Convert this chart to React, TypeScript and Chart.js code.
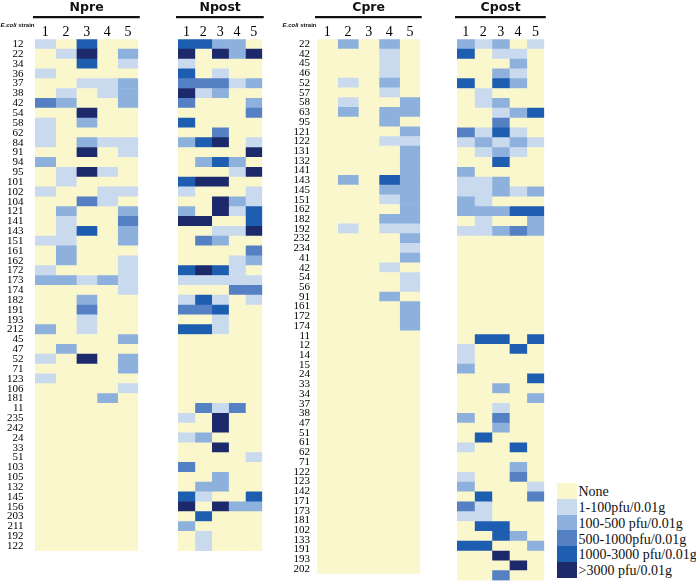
import React, { useEffect, useRef } from 'react';
import { Chart, registerables } from 'chart.js';

Chart.register(...registerables);

// ---------- data ----------
const LEVEL_COLORS = ['#FAF7CC', '#C9DAEF', '#8DB0DC', '#5581C4', '#1E5EB0', '#1C2A6C'];
const LEVEL_NAMES = [
  'None',
  '1-100pfu/0.01g',
  '100-500 pfu/0.01g',
  '500-1000pfu/0.01g',
  '1000-3000 pfu/0.01g',
  '>3000 pfu/0.01g',
];
const COLUMN_LABELS = ['1', '2', '3', '4', '5'];

const N_STRAINS = [
  '12', '22', '34', '36', '37', '38', '42', '54', '58', '62', '84', '91', '94', '95', '101', '102', '104',
  '121', '141', '143', '151', '161', '162', '172', '173', '174', '182', '191', '193', '212', '45', '47',
  '52', '71', '123', '106', '181', '11', '235', '242', '24', '33', '51', '103', '105', '132', '145', '156',
  '203', '211', '192', '122',
];

const C_STRAINS = [
  '22', '42', '45', '46', '52', '57', '58', '63', '95', '121', '122', '131', '132', '141', '143', '145',
  '151', '162', '182', '192', '232', '234', '41', '42', '54', '56', '91', '161', '172', '174', '11', '12',
  '14', '15', '24', '33', '34', '37', '38', '47', '51', '61', '62', '71', '122', '123', '142', '171', '173',
  '181', '102', '133', '191', '193', '202',
];

// levels: 0 None, 1 1-100, 2 100-500, 3 500-1000, 4 1000-3000, 5 >3000
const NPRE = [
  [1, 0, 4, 0, 0], [0, 1, 5, 0, 2], [0, 0, 4, 0, 1], [1, 0, 0, 0, 0], [0, 0, 1, 1, 2],
  [0, 1, 0, 1, 2], [3, 2, 0, 0, 2], [0, 0, 5, 0, 0], [1, 0, 2, 0, 0], [1, 0, 0, 0, 0],
  [1, 0, 2, 1, 1], [0, 0, 5, 0, 1], [2, 0, 0, 0, 0], [0, 1, 5, 1, 0], [0, 1, 0, 0, 0],
  [1, 0, 0, 1, 1], [0, 0, 3, 1, 0], [0, 2, 0, 0, 2], [0, 1, 0, 0, 3], [0, 1, 4, 0, 2],
  [1, 1, 0, 0, 2], [0, 2, 0, 0, 0], [0, 2, 0, 0, 1], [1, 0, 0, 0, 1], [2, 2, 1, 2, 1],
  [0, 0, 0, 0, 1], [0, 0, 2, 0, 0], [0, 0, 3, 0, 0], [0, 0, 1, 0, 0], [2, 0, 1, 0, 0],
  [0, 0, 0, 0, 2], [0, 2, 0, 0, 0], [1, 0, 5, 0, 2], [0, 0, 0, 0, 2], [1, 0, 0, 0, 0],
  [0, 0, 0, 0, 1], [0, 0, 0, 2, 0], [0, 0, 0, 0, 0], [0, 0, 0, 0, 0], [0, 0, 0, 0, 0],
  [0, 0, 0, 0, 0], [0, 0, 0, 0, 0], [0, 0, 0, 0, 0], [0, 0, 0, 0, 0], [0, 0, 0, 0, 0],
  [0, 0, 0, 0, 0], [0, 0, 0, 0, 0], [0, 0, 0, 0, 0], [0, 0, 0, 0, 0], [0, 0, 0, 0, 0],
  [0, 0, 0, 0, 0], [0, 0, 0, 0, 0],
];

const NPOST = [
  [4, 4, 2, 2, 0], [5, 0, 5, 2, 5], [1, 0, 0, 0, 0], [4, 0, 1, 0, 0], [3, 3, 3, 1, 2],
  [5, 1, 2, 0, 0], [3, 0, 0, 0, 2], [0, 0, 0, 0, 3], [4, 0, 0, 0, 0], [0, 0, 3, 0, 0],
  [2, 4, 5, 0, 1], [0, 0, 0, 0, 5], [0, 2, 4, 2, 0], [0, 0, 0, 1, 5], [4, 5, 5, 0, 0],
  [1, 0, 0, 0, 1], [0, 0, 5, 2, 1], [2, 0, 5, 1, 4], [5, 5, 0, 0, 4], [0, 0, 1, 1, 5],
  [0, 3, 2, 0, 0], [0, 0, 0, 0, 3], [0, 0, 0, 1, 2], [4, 5, 4, 1, 0], [1, 1, 1, 1, 1],
  [0, 0, 0, 3, 3], [1, 4, 1, 0, 1], [3, 3, 4, 0, 0], [0, 0, 1, 0, 0], [4, 4, 1, 0, 0],
  [0, 0, 0, 0, 0], [0, 0, 0, 0, 0], [0, 0, 0, 0, 0], [0, 0, 0, 0, 0], [0, 0, 0, 0, 0],
  [0, 0, 0, 0, 0], [0, 0, 0, 0, 0], [0, 3, 1, 3, 0], [1, 0, 5, 0, 0], [0, 0, 5, 0, 0],
  [1, 2, 0, 0, 0], [0, 0, 5, 0, 0], [0, 0, 0, 0, 1], [3, 0, 0, 0, 0], [0, 0, 2, 0, 0],
  [0, 2, 2, 0, 0], [4, 1, 0, 0, 4], [5, 0, 5, 2, 2], [0, 4, 0, 0, 0], [2, 0, 0, 0, 0],
  [0, 1, 0, 0, 0], [0, 1, 0, 0, 0],
];

const CPRE = [
  [0, 2, 0, 2, 0], [0, 0, 0, 1, 0], [0, 0, 0, 1, 0], [0, 0, 0, 1, 0], [0, 1, 0, 2, 0],
  [0, 0, 0, 1, 0], [0, 1, 0, 0, 2], [0, 2, 0, 2, 2], [0, 0, 0, 2, 0], [0, 0, 0, 0, 2],
  [0, 0, 0, 1, 1], [0, 0, 0, 0, 2], [0, 0, 0, 0, 2], [0, 0, 0, 0, 2], [0, 2, 0, 4, 2],
  [0, 0, 0, 2, 2], [0, 0, 0, 1, 2], [0, 0, 0, 0, 2], [0, 0, 0, 2, 2], [0, 1, 0, 1, 1],
  [0, 0, 0, 0, 2], [0, 0, 0, 0, 1], [0, 0, 0, 0, 2], [0, 0, 0, 1, 0], [0, 0, 0, 0, 1],
  [0, 0, 0, 0, 1], [0, 0, 0, 2, 0], [0, 0, 0, 0, 2], [0, 0, 0, 0, 2], [0, 0, 0, 0, 2],
  [0, 0, 0, 0, 0], [0, 0, 0, 0, 0], [0, 0, 0, 0, 0], [0, 0, 0, 0, 0], [0, 0, 0, 0, 0],
  [0, 0, 0, 0, 0], [0, 0, 0, 0, 0], [0, 0, 0, 0, 0], [0, 0, 0, 0, 0], [0, 0, 0, 0, 0],
  [0, 0, 0, 0, 0], [0, 0, 0, 0, 0], [0, 0, 0, 0, 0], [0, 0, 0, 0, 0], [0, 0, 0, 0, 0],
  [0, 0, 0, 0, 0], [0, 0, 0, 0, 0], [0, 0, 0, 0, 0], [0, 0, 0, 0, 0], [0, 0, 0, 0, 0],
  [0, 0, 0, 0, 0], [0, 0, 0, 0, 0], [0, 0, 0, 0, 0], [0, 0, 0, 0, 0], [0, 0, 0, 0, 0],
];

const CPOST = [
  [2, 1, 2, 0, 1], [4, 0, 1, 1, 0], [0, 0, 0, 2, 0], [0, 0, 2, 1, 0], [4, 0, 4, 2, 0],
  [0, 1, 0, 0, 0], [0, 1, 2, 0, 0], [0, 0, 1, 2, 4], [0, 0, 3, 0, 0], [3, 1, 4, 1, 0],
  [1, 2, 1, 2, 1], [0, 1, 2, 1, 0], [0, 0, 4, 0, 0], [2, 0, 0, 0, 0], [1, 1, 2, 0, 0],
  [1, 1, 2, 1, 2], [2, 1, 0, 0, 0], [2, 2, 2, 4, 4], [0, 1, 0, 0, 2], [1, 1, 2, 3, 2],
  [0, 0, 0, 0, 0], [0, 0, 0, 0, 0], [0, 0, 0, 0, 0], [0, 0, 0, 0, 0], [0, 0, 0, 0, 0],
  [0, 0, 0, 0, 0], [0, 0, 0, 0, 0], [0, 0, 0, 0, 0], [0, 0, 0, 0, 0], [0, 0, 0, 0, 0],
  [0, 4, 4, 0, 4], [1, 0, 0, 4, 0], [1, 0, 0, 0, 0], [2, 0, 0, 0, 0], [0, 0, 0, 0, 4],
  [0, 0, 2, 0, 0], [0, 0, 0, 0, 2], [0, 0, 1, 0, 0], [2, 0, 3, 0, 0], [0, 0, 2, 0, 0],
  [0, 4, 0, 0, 0], [1, 0, 0, 4, 0], [0, 0, 0, 0, 0], [0, 0, 0, 2, 0], [1, 0, 0, 3, 0],
  [2, 0, 0, 0, 1], [0, 4, 0, 0, 3], [3, 1, 0, 0, 0], [1, 1, 0, 0, 0], [0, 4, 4, 0, 0],
  [0, 0, 4, 2, 0], [4, 4, 0, 0, 2], [0, 0, 5, 0, 0], [0, 0, 0, 5, 0], [0, 0, 3, 0, 0],
];

// ---------- layout ----------
const W = 696;
const H = 583;
const HEADER_H = 39.3;
const ROW_H = 9.84;
const PANEL_W = 103.25;
const SERIF = '"Liberation Serif", "Times New Roman", serif';

const headerPlugin = {
  id: 'panelHeader',
  afterDraw(chart: any, _args: any, opts: any) {
    const { ctx, chartArea } = chart;
    const cx = (chartArea.left + chartArea.right) / 2;
    ctx.save();
    ctx.fillStyle = '#111';
    ctx.font = 'bold 12.5px "DejaVu Sans", sans-serif';
    ctx.textAlign = 'center';
    ctx.textBaseline = 'alphabetic';
    ctx.fillText(opts.title, cx, 11);
    ctx.strokeStyle = '#111';
    ctx.lineWidth = 2.2;
    ctx.beginPath();
    ctx.moveTo(chartArea.left - 2, 17.2);
    ctx.lineTo(chartArea.right + 1.5, 17.2);
    ctx.stroke();
    if (opts.caption) {
      const f1 = 'italic bold 6px "Liberation Sans", Arial, sans-serif';
      const f2 = 'bold 6px "Liberation Sans", Arial, sans-serif';
      ctx.textAlign = 'left';
      ctx.textBaseline = 'middle';
      ctx.font = f1;
      const w1 = ctx.measureText('E.coli').width;
      ctx.font = f2;
      const w2 = ctx.measureText(' strain').width;
      const x0 = chartArea.left - 0.5 - w1 - w2;
      ctx.font = f1;
      ctx.fillText('E.coli', x0, 25.5);
      ctx.font = f2;
      ctx.fillText(' strain', x0 + w1, 25.5);
    }
    ctx.restore();
  },
};

type PanelProps = {
  title: string;
  strains: string[];
  levels: number[][];
  canvasLeft: number;
  canvasWidth: number;
  areaLeft: number;
  showLabels: boolean;
  labelPad: number;
};

function Panel(p: PanelProps) {
  const ref = useRef<HTMLCanvasElement>(null);
  useEffect(() => {
    if (!ref.current) return;
    const datasets = COLUMN_LABELS.map((col, j) => ({
      label: col,
      data: p.strains.map(() => [j, j + 1]),
      backgroundColor: p.levels.map((row) => LEVEL_COLORS[row[j]]),
      borderWidth: 0,
      grouped: false,
      barPercentage: 1,
      categoryPercentage: 1,
    }));
    const chart = new Chart(ref.current, {
      type: 'bar',
      data: { labels: p.strains, datasets: datasets as any },
      plugins: [headerPlugin as any],
      options: {
        indexAxis: 'y',
        responsive: false,
        animation: false,
        events: [],
        layout: {
          padding: {
            left: p.showLabels ? 0 : p.areaLeft,
            right: p.canvasWidth - p.areaLeft - PANEL_W,
            top: 0,
            bottom: H - HEADER_H - p.strains.length * ROW_H,
          },
        },
        plugins: {
          legend: { display: false },
          tooltip: { enabled: false },
          panelHeader: { title: p.title, caption: p.showLabels },
        } as any,
        scales: {
          x: {
            type: 'linear',
            position: 'top',
            min: 0,
            max: 5,
            grid: { display: false, drawTicks: false },
            border: { display: false },
            afterBuildTicks: (s: any) => {
              s.ticks = COLUMN_LABELS.map((_, j) => ({ value: j + 0.5 }));
            },
            afterFit: (s: any) => {
              s.height = HEADER_H;
            },
            ticks: {
              autoSkip: false,
              maxRotation: 0,
              padding: 0,
              color: '#000',
              font: { family: SERIF, size: 14, lineHeight: 1 },
              callback: (v: any) => COLUMN_LABELS[Math.floor(Number(v))],
            },
          },
          y: {
            type: 'category',
            display: p.showLabels,
            grid: { display: false, drawTicks: false },
            border: { display: false },
            afterFit: (s: any) => {
              s.width = p.areaLeft;
            },
            ticks: {
              autoSkip: false,
              padding: p.labelPad,
              color: '#000',
              font: { family: SERIF, size: 11, lineHeight: 0.4 },
            },
          },
        },
      } as any,
    });
    return () => chart.destroy();
  }, []);
  return (
    <canvas
      ref={ref}
      width={p.canvasWidth}
      height={H}
      style={{ position: 'absolute', left: p.canvasLeft, top: 0, width: p.canvasWidth, height: H }}
    />
  );
}

function Legend() {
  return (
    <div style={{ position: 'absolute', left: 557, top: 483 }}>
      {LEVEL_NAMES.map((name, i) => (
        <div key={name} style={{ display: 'flex', alignItems: 'center', height: 15.8 }}>
          <div style={{ width: 20, height: 15.8, background: LEVEL_COLORS[i] }} />
          <span
            style={{
              marginLeft: 1.5,
              font: `14px ${SERIF}`,
              lineHeight: '15.8px',
              position: 'relative',
              top: 1.2,
              whiteSpace: 'nowrap',
              color: '#111',
            }}
          >
            {name}
          </span>
        </div>
      ))}
    </div>
  );
}

export default function App() {
  return (
    <div
      style={{
        position: 'absolute',
        left: 0,
        top: 0,
        width: W,
        height: H,
        overflow: 'hidden',
        background: '#fff',
      }}
    >
      <Panel title="Npre" strains={N_STRAINS} levels={NPRE} canvasLeft={0} canvasWidth={141} areaLeft={35} showLabels labelPad={11.5} />
      <Panel title="Npost" strains={N_STRAINS} levels={NPOST} canvasLeft={140} canvasWidth={125} areaLeft={19} showLabels={false} labelPad={0} />
      <Panel title="Cpre" strains={C_STRAINS} levels={CPRE} canvasLeft={265} canvasWidth={160} areaLeft={52} showLabels labelPad={7} />
      <Panel title="Cpost" strains={C_STRAINS} levels={CPOST} canvasLeft={425} canvasWidth={125} areaLeft={16} showLabels={false} labelPad={0} />
      <Legend />
    </div>
  );
}
